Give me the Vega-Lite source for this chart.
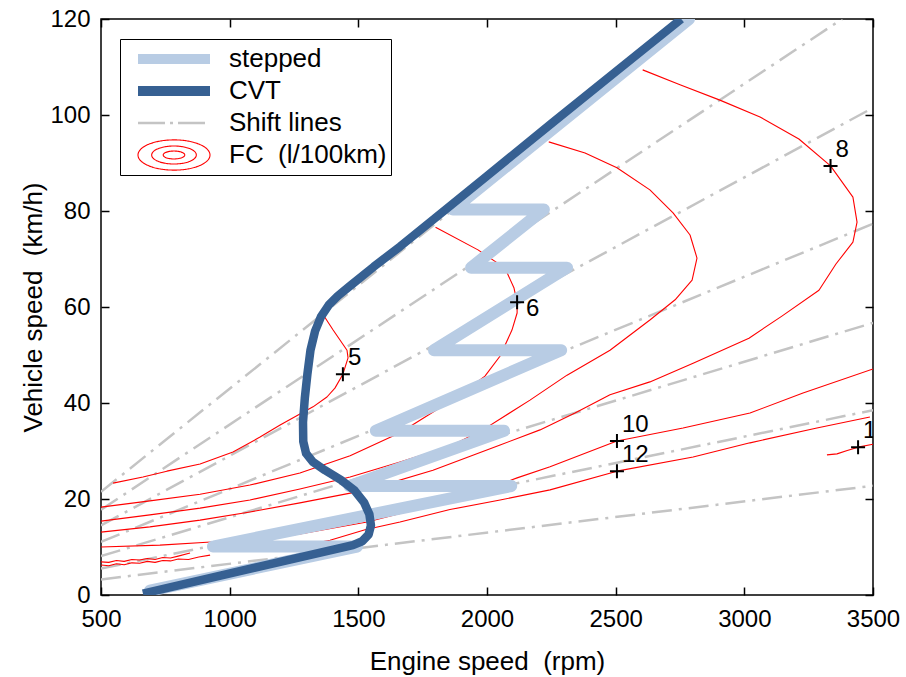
{
  "$schema": "https://vega.github.io/schema/vega-lite/v6.json",
  "width": 772,
  "height": 576,
  "autosize": {"type": "none"},
  "padding": {"left": 101, "top": 19, "right": 33, "bottom": 82},
  "background": "white",
  "config": {
    "font": "Liberation Sans",
    "view": {"stroke": "#000", "strokeWidth": 1.5},
    "axis": {
      "grid": false,
      "domain": false,
      "tickColor": "#000",
      "tickWidth": 1.5,
      "tickSize": -8,
      "labelFont": "Liberation Sans",
      "labelFontSize": 24,
      "labelColor": "#000",
      "titleFont": "Liberation Sans",
      "titleFontSize": 26,
      "titleFontWeight": "normal",
      "titleColor": "#000"
    }
  },
  "datasets": {
    "shift": [
      {"g": 1, "rpm": 500, "kmh": 3.25}, {"g": 1, "rpm": 3500, "kmh": 22.75},
      {"g": 2, "rpm": 500, "kmh": 5.5}, {"g": 2, "rpm": 3500, "kmh": 38.5},
      {"g": 3, "rpm": 500, "kmh": 8.1}, {"g": 3, "rpm": 3500, "kmh": 56.7},
      {"g": 4, "rpm": 500, "kmh": 11.05}, {"g": 4, "rpm": 3500, "kmh": 77.35},
      {"g": 5, "rpm": 500, "kmh": 14.5}, {"g": 5, "rpm": 3500, "kmh": 101.5},
      {"g": 6, "rpm": 500, "kmh": 17.75}, {"g": 6, "rpm": 3380, "kmh": 120},
      {"g": 7, "rpm": 500, "kmh": 21.5}, {"g": 7, "rpm": 2791, "kmh": 120}
    ],
    "fc": [
      {"p": "5", "rpm": 1359, "kmh": 58.75}, {"p": "5", "rpm": 1402, "kmh": 55.2}, {"p": "5", "rpm": 1456, "kmh": 51}, {"p": "5", "rpm": 1460, "kmh": 49.4}, {"p": "5", "rpm": 1440, "kmh": 46}, {"p": "5", "rpm": 1409, "kmh": 43.1}, {"p": "5", "rpm": 1378, "kmh": 41.25}, {"p": "5", "rpm": 1324, "kmh": 39.2}, {"p": "5", "rpm": 1273, "kmh": 37.7}, {"p": "5", "rpm": 1196, "kmh": 35.4}, {"p": "5", "rpm": 1118, "kmh": 32.9}, {"p": "5", "rpm": 1013, "kmh": 29.8}, {"p": "5", "rpm": 885, "kmh": 27.3}, {"p": "5", "rpm": 756, "kmh": 25.8}, {"p": "5", "rpm": 663, "kmh": 24.6}, {"p": "5", "rpm": 547, "kmh": 23.3},
      {"p": "6", "rpm": 500, "kmh": 18.3}, {"p": "6", "rpm": 690, "kmh": 19.6}, {"p": "6", "rpm": 885, "kmh": 21}, {"p": "6", "rpm": 1079, "kmh": 22.9}, {"p": "6", "rpm": 1273, "kmh": 25.4}, {"p": "6", "rpm": 1468, "kmh": 29}, {"p": "6", "rpm": 1662, "kmh": 33.8}, {"p": "6", "rpm": 1817, "kmh": 39}, {"p": "6", "rpm": 1915, "kmh": 42.5}, {"p": "6", "rpm": 1992, "kmh": 45.6}, {"p": "6", "rpm": 2051, "kmh": 49.8}, {"p": "6", "rpm": 2097, "kmh": 55.2}, {"p": "6", "rpm": 2117, "kmh": 58.75}, {"p": "6", "rpm": 2117, "kmh": 61}, {"p": "6", "rpm": 2105, "kmh": 63.95}, {"p": "6", "rpm": 2070, "kmh": 68.1}, {"p": "6", "rpm": 1965, "kmh": 71.9}, {"p": "6", "rpm": 1800, "kmh": 76.6},
      {"p": "7", "rpm": 500, "kmh": 15.4}, {"p": "7", "rpm": 690, "kmh": 16.7}, {"p": "7", "rpm": 885, "kmh": 18.1}, {"p": "7", "rpm": 1079, "kmh": 19.8}, {"p": "7", "rpm": 1273, "kmh": 22.1}, {"p": "7", "rpm": 1468, "kmh": 24.6}, {"p": "7", "rpm": 1662, "kmh": 27.7}, {"p": "7", "rpm": 1856, "kmh": 31}, {"p": "7", "rpm": 1984, "kmh": 34.4}, {"p": "7", "rpm": 2167, "kmh": 40.6}, {"p": "7", "rpm": 2311, "kmh": 45.8}, {"p": "7", "rpm": 2478, "kmh": 51}, {"p": "7", "rpm": 2633, "kmh": 57.3}, {"p": "7", "rpm": 2731, "kmh": 61.5}, {"p": "7", "rpm": 2797, "kmh": 65.6}, {"p": "7", "rpm": 2816, "kmh": 70.2}, {"p": "7", "rpm": 2789, "kmh": 75}, {"p": "7", "rpm": 2723, "kmh": 79.6}, {"p": "7", "rpm": 2633, "kmh": 84.4}, {"p": "7", "rpm": 2505, "kmh": 89}, {"p": "7", "rpm": 2381, "kmh": 92.1}, {"p": "7", "rpm": 2240, "kmh": 94.4},
      {"p": "8", "rpm": 500, "kmh": 13.1}, {"p": "8", "rpm": 690, "kmh": 14.2}, {"p": "8", "rpm": 885, "kmh": 15.6}, {"p": "8", "rpm": 1079, "kmh": 17.3}, {"p": "8", "rpm": 1273, "kmh": 19.2}, {"p": "8", "rpm": 1534, "kmh": 21.9}, {"p": "8", "rpm": 1790, "kmh": 26}, {"p": "8", "rpm": 2051, "kmh": 31.25}, {"p": "8", "rpm": 2206, "kmh": 34.4}, {"p": "8", "rpm": 2342, "kmh": 37.9}, {"p": "8", "rpm": 2478, "kmh": 41.7}, {"p": "8", "rpm": 2633, "kmh": 44.4}, {"p": "8", "rpm": 2801, "kmh": 48.3}, {"p": "8", "rpm": 3018, "kmh": 53.5}, {"p": "8", "rpm": 3146, "kmh": 58.1}, {"p": "8", "rpm": 3290, "kmh": 63.5}, {"p": "8", "rpm": 3356, "kmh": 68.96}, {"p": "8", "rpm": 3422, "kmh": 73.5}, {"p": "8", "rpm": 3438, "kmh": 77.7}, {"p": "8", "rpm": 3422, "kmh": 82.9}, {"p": "8", "rpm": 3335, "kmh": 89.4}, {"p": "8", "rpm": 3212, "kmh": 95}, {"p": "8", "rpm": 3061, "kmh": 99.6}, {"p": "8", "rpm": 2905, "kmh": 103.1}, {"p": "8", "rpm": 2750, "kmh": 106.3}, {"p": "8", "rpm": 2605, "kmh": 109.4},
      {"p": "10", "rpm": 500, "kmh": 10}, {"p": "10", "rpm": 729, "kmh": 10.4}, {"p": "10", "rpm": 912, "kmh": 11.0}, {"p": "10", "rpm": 1130, "kmh": 11.7}, {"p": "10", "rpm": 1273, "kmh": 12.7}, {"p": "10", "rpm": 1534, "kmh": 15.2}, {"p": "10", "rpm": 1790, "kmh": 18.75}, {"p": "10", "rpm": 2012, "kmh": 22.3}, {"p": "10", "rpm": 2117, "kmh": 24.4}, {"p": "10", "rpm": 2245, "kmh": 26.7}, {"p": "10", "rpm": 2505, "kmh": 32.1}, {"p": "10", "rpm": 2762, "kmh": 34.8}, {"p": "10", "rpm": 3022, "kmh": 37.9}, {"p": "10", "rpm": 3228, "kmh": 42.1}, {"p": "10", "rpm": 3500, "kmh": 47.1},
      {"p": "12a", "rpm": 500, "kmh": 6.9}, {"p": "12a", "rpm": 530, "kmh": 6.8}, {"p": "12a", "rpm": 560, "kmh": 7.2}, {"p": "12a", "rpm": 590, "kmh": 7.0}, {"p": "12a", "rpm": 620, "kmh": 7.4}, {"p": "12a", "rpm": 650, "kmh": 7.3}, {"p": "12a", "rpm": 680, "kmh": 7.6}, {"p": "12a", "rpm": 710, "kmh": 7.4}, {"p": "12a", "rpm": 740, "kmh": 7.8}, {"p": "12a", "rpm": 770, "kmh": 7.7}, {"p": "12a", "rpm": 800, "kmh": 8.1}, {"p": "12a", "rpm": 846, "kmh": 8.75},
      {"p": "12b", "rpm": 1273, "kmh": 10.2}, {"p": "12b", "rpm": 1390, "kmh": 11.4}, {"p": "12b", "rpm": 1526, "kmh": 13.6}, {"p": "12b", "rpm": 1662, "kmh": 15.2}, {"p": "12b", "rpm": 1856, "kmh": 17.8}, {"p": "12b", "rpm": 2051, "kmh": 19.8}, {"p": "12b", "rpm": 2245, "kmh": 21.9}, {"p": "12b", "rpm": 2505, "kmh": 25.8}, {"p": "12b", "rpm": 2801, "kmh": 28.75}, {"p": "12b", "rpm": 3022, "kmh": 31.7}, {"p": "12b", "rpm": 3282, "kmh": 34.8}, {"p": "12b", "rpm": 3488, "kmh": 37.1},
      {"p": "14a", "rpm": 500, "kmh": 6.25}, {"p": "14a", "rpm": 530, "kmh": 6.1}, {"p": "14a", "rpm": 560, "kmh": 6.5}, {"p": "14a", "rpm": 590, "kmh": 6.3}, {"p": "14a", "rpm": 620, "kmh": 6.7}, {"p": "14a", "rpm": 650, "kmh": 6.6}, {"p": "14a", "rpm": 680, "kmh": 7.0}, {"p": "14a", "rpm": 710, "kmh": 6.8}, {"p": "14a", "rpm": 740, "kmh": 7.2}, {"p": "14a", "rpm": 770, "kmh": 7.1}, {"p": "14a", "rpm": 800, "kmh": 7.5}, {"p": "14a", "rpm": 840, "kmh": 7.4}, {"p": "14a", "rpm": 880, "kmh": 7.9}, {"p": "14a", "rpm": 924, "kmh": 8.3},
      {"p": "14b", "rpm": 3321, "kmh": 29.2}, {"p": "14b", "rpm": 3360, "kmh": 29.4}, {"p": "14b", "rpm": 3400, "kmh": 30.1}, {"p": "14b", "rpm": 3442, "kmh": 30.8}, {"p": "14b", "rpm": 3500, "kmh": 31.4}
    ],
    "stepped": [
      {"rpm": 690, "kmh": 0.9}, {"rpm": 1495, "kmh": 10.1}, {"rpm": 935, "kmh": 10.1},
      {"rpm": 2094, "kmh": 22.7}, {"rpm": 1465, "kmh": 22.7},
      {"rpm": 2066, "kmh": 34.2}, {"rpm": 1568, "kmh": 34.2},
      {"rpm": 2288, "kmh": 51}, {"rpm": 1794, "kmh": 51},
      {"rpm": 2311, "kmh": 68.2}, {"rpm": 1938, "kmh": 68.2},
      {"rpm": 2221, "kmh": 80.3}, {"rpm": 1867, "kmh": 80.3},
      {"rpm": 2785, "kmh": 120}
    ],
    "cvt": [
      {"rpm": 663, "kmh": 0.3}, {"rpm": 1479, "kmh": 10.4}, {"rpm": 1515, "kmh": 11.2}, {"rpm": 1540, "kmh": 12.6}, {"rpm": 1549, "kmh": 14.5}, {"rpm": 1543, "kmh": 16.8}, {"rpm": 1522, "kmh": 19.3}, {"rpm": 1485, "kmh": 21.8}, {"rpm": 1432, "kmh": 24}, {"rpm": 1370, "kmh": 26}, {"rpm": 1324, "kmh": 27.7}, {"rpm": 1297, "kmh": 29.5}, {"rpm": 1286, "kmh": 32}, {"rpm": 1285, "kmh": 36}, {"rpm": 1292, "kmh": 41}, {"rpm": 1302, "kmh": 46}, {"rpm": 1314, "kmh": 51}, {"rpm": 1332, "kmh": 55}, {"rpm": 1355, "kmh": 58}, {"rpm": 1385, "kmh": 60.4}, {"rpm": 1420, "kmh": 62.3}, {"rpm": 1468, "kmh": 64.4}, {"rpm": 1560, "kmh": 68.4}, {"rpm": 1662, "kmh": 72.6}, {"rpm": 1800, "kmh": 78.6}, {"rpm": 2000, "kmh": 87.3}, {"rpm": 2250, "kmh": 98.2}, {"rpm": 2500, "kmh": 109}, {"rpm": 2755, "kmh": 120}
    ],
    "fcLabels": [
      {"lvl": "5", "rpm": 1440, "kmh": 46},
      {"lvl": "6", "rpm": 2117, "kmh": 61},
      {"lvl": "8", "rpm": 3335, "kmh": 89.4},
      {"lvl": "10", "rpm": 2505, "kmh": 32.1},
      {"lvl": "12", "rpm": 2505, "kmh": 25.8},
      {"lvl": "14", "rpm": 3442, "kmh": 30.8}
    ]
  },
  "layer": [
    {
      "data": {"name": "shift"},
      "mark": {"type": "line", "clip": true, "strokeWidth": 2.5, "strokeDash": [20, 7, 3, 7]},
      "encoding": {
        "x": {
          "field": "rpm", "type": "quantitative",
          "scale": {"domain": [500, 3500], "nice": false, "zero": false},
          "axis": {
            "orient": "bottom",
            "values": [500, 1000, 1500, 2000, 2500, 3000, 3500],
            "format": "d",
            "labelFlush": false,
            "labelPadding": 20,
            "title": "Engine speed \u00a0(rpm)",
            "titleX": 386,
            "titleY": 74,
            "titleBaseline": "alphabetic"
          }
        },
        "y": {
          "field": "kmh", "type": "quantitative",
          "scale": {"domain": [0, 120], "nice": false, "zero": false},
          "axis": {
            "orient": "left",
            "values": [0, 20, 40, 60, 80, 100, 120],
            "labelPadding": 19,
            "title": "Vehicle speed \u00a0(km/h)",
            "titleX": -60,
            "titleY": 288,
            "titleBaseline": "alphabetic"
          }
        },
        "detail": {"field": "g", "type": "nominal"},
        "color": {"datum": "Shift lines", "type": "nominal",
          "scale": {"domain": ["stepped", "CVT", "Shift lines", "FC \u00a0(l/100km)"], "range": ["#b8cce4", "#366092", "#c4c4c4", "#ff0000"]},
          "legend": {"orient": "none", "legendX": 19, "legendY": 20, "title": null, "symbolType": "stroke", "clipHeight": 32, "rowPadding": 0, "padding": 4, "labelFontSize": 26, "labelFont": "Liberation Sans", "labelColor": "#000", "labelLimit": 400, "strokeColor": "#000", "fillColor": "#fff",
            "encode": {
              "symbols": {"update": {
                "x": {"value": 50},
                "fill": {"value": "transparent"},
                "size": {"value": 5184},
                "shape": {"signal": "indexof(datum.value, 'FC') === 0 ? 'M-1,0A1,0.42,0,1,0,1,0A1,0.42,0,1,0,-1,0ZM-0.62,0A0.62,0.25,0,1,0,0.62,0A0.62,0.25,0,1,0,-0.62,0ZM-0.3,0A0.3,0.11,0,1,0,0.3,0A0.3,0.11,0,1,0,-0.3,0Z' : 'stroke'"},
                "strokeWidth": {"signal": "datum.value === 'stepped' || datum.value === 'CVT' ? 10 : datum.value === 'Shift lines' ? 2.5 : 1.1"},
                "strokeDash": {"signal": "datum.value === 'Shift lines' ? [27, 5, 3, 5] : [1, 0]"},
                "opacity": {"value": 1}
              }},
              "labels": {"update": {"x": {"value": 105}, "align": {"value": "left"}}}
            }}}
      }
    },
    {
      "data": {"name": "fc"},
      "mark": {"type": "line", "clip": true, "strokeJoin": "round", "strokeWidth": 1.1},
      "encoding": {
        "x": {"field": "rpm", "type": "quantitative",
          "axis": {"orient": "top", "values": [500, 1000, 1500, 2000, 2500, 3000, 3500], "labels": false, "title": null}},
        "y": {"field": "kmh", "type": "quantitative",
          "axis": {"orient": "right", "values": [0, 20, 40, 60, 80, 100, 120], "labels": false, "title": null}},
        "order": {"value": null},
        "detail": {"field": "p", "type": "nominal"},
        "color": {"datum": "FC \u00a0(l/100km)", "type": "nominal",
          "scale": {"domain": ["stepped", "CVT", "Shift lines", "FC \u00a0(l/100km)"], "range": ["#b8cce4", "#366092", "#c4c4c4", "#ff0000"]},
          "legend": {"orient": "none", "legendX": 19, "legendY": 20, "title": null, "symbolType": "stroke", "clipHeight": 32, "rowPadding": 0, "padding": 4, "labelFontSize": 26, "labelFont": "Liberation Sans", "labelColor": "#000", "labelLimit": 400, "strokeColor": "#000", "fillColor": "#fff",
            "encode": {
              "symbols": {"update": {
                "x": {"value": 50},
                "fill": {"value": "transparent"},
                "size": {"value": 5184},
                "shape": {"signal": "indexof(datum.value, 'FC') === 0 ? 'M-1,0A1,0.42,0,1,0,1,0A1,0.42,0,1,0,-1,0ZM-0.62,0A0.62,0.25,0,1,0,0.62,0A0.62,0.25,0,1,0,-0.62,0ZM-0.3,0A0.3,0.11,0,1,0,0.3,0A0.3,0.11,0,1,0,-0.3,0Z' : 'stroke'"},
                "strokeWidth": {"signal": "datum.value === 'stepped' || datum.value === 'CVT' ? 10 : datum.value === 'Shift lines' ? 2.5 : 1.1"},
                "strokeDash": {"signal": "datum.value === 'Shift lines' ? [27, 5, 3, 5] : [1, 0]"},
                "opacity": {"value": 1}
              }},
              "labels": {"update": {"x": {"value": 105}, "align": {"value": "left"}}}
            }}}
      }
    },
    {
      "data": {"name": "stepped"},
      "mark": {"type": "line", "clip": true, "strokeCap": "round", "strokeJoin": "round", "strokeWidth": 12},
      "encoding": {
        "x": {"field": "rpm", "type": "quantitative", "axis": null},
        "y": {"field": "kmh", "type": "quantitative", "axis": null},
        "order": {"value": null},
        "color": {"datum": "stepped", "type": "nominal",
          "scale": {"domain": ["stepped", "CVT", "Shift lines", "FC \u00a0(l/100km)"], "range": ["#b8cce4", "#366092", "#c4c4c4", "#ff0000"]},
          "legend": {"orient": "none", "legendX": 19, "legendY": 20, "title": null, "symbolType": "stroke", "clipHeight": 32, "rowPadding": 0, "padding": 4, "labelFontSize": 26, "labelFont": "Liberation Sans", "labelColor": "#000", "labelLimit": 400, "strokeColor": "#000", "fillColor": "#fff",
            "encode": {
              "symbols": {"update": {
                "x": {"value": 50},
                "fill": {"value": "transparent"},
                "size": {"value": 5184},
                "shape": {"signal": "indexof(datum.value, 'FC') === 0 ? 'M-1,0A1,0.42,0,1,0,1,0A1,0.42,0,1,0,-1,0ZM-0.62,0A0.62,0.25,0,1,0,0.62,0A0.62,0.25,0,1,0,-0.62,0ZM-0.3,0A0.3,0.11,0,1,0,0.3,0A0.3,0.11,0,1,0,-0.3,0Z' : 'stroke'"},
                "strokeWidth": {"signal": "datum.value === 'stepped' || datum.value === 'CVT' ? 10 : datum.value === 'Shift lines' ? 2.5 : 1.1"},
                "strokeDash": {"signal": "datum.value === 'Shift lines' ? [27, 5, 3, 5] : [1, 0]"},
                "opacity": {"value": 1}
              }},
              "labels": {"update": {"x": {"value": 105}, "align": {"value": "left"}}}
            }}}
      }
    },
    {
      "data": {"name": "cvt"},
      "mark": {"type": "line", "clip": true, "strokeJoin": "round", "strokeWidth": 8.5},
      "encoding": {
        "x": {"field": "rpm", "type": "quantitative", "axis": null},
        "y": {"field": "kmh", "type": "quantitative", "axis": null},
        "order": {"value": null},
        "color": {"datum": "CVT", "type": "nominal",
          "scale": {"domain": ["stepped", "CVT", "Shift lines", "FC \u00a0(l/100km)"], "range": ["#b8cce4", "#366092", "#c4c4c4", "#ff0000"]},
          "legend": {"orient": "none", "legendX": 19, "legendY": 20, "title": null, "symbolType": "stroke", "clipHeight": 32, "rowPadding": 0, "padding": 4, "labelFontSize": 26, "labelFont": "Liberation Sans", "labelColor": "#000", "labelLimit": 400, "strokeColor": "#000", "fillColor": "#fff",
            "encode": {
              "symbols": {"update": {
                "x": {"value": 50},
                "fill": {"value": "transparent"},
                "size": {"value": 5184},
                "shape": {"signal": "indexof(datum.value, 'FC') === 0 ? 'M-1,0A1,0.42,0,1,0,1,0A1,0.42,0,1,0,-1,0ZM-0.62,0A0.62,0.25,0,1,0,0.62,0A0.62,0.25,0,1,0,-0.62,0ZM-0.3,0A0.3,0.11,0,1,0,0.3,0A0.3,0.11,0,1,0,-0.3,0Z' : 'stroke'"},
                "strokeWidth": {"signal": "datum.value === 'stepped' || datum.value === 'CVT' ? 10 : datum.value === 'Shift lines' ? 2.5 : 1.1"},
                "strokeDash": {"signal": "datum.value === 'Shift lines' ? [27, 5, 3, 5] : [1, 0]"},
                "opacity": {"value": 1}
              }},
              "labels": {"update": {"x": {"value": 105}, "align": {"value": "left"}}}
            }}}
      }
    },
    {
      "data": {"name": "fcLabels"},
      "mark": {"type": "point", "shape": "M-1,0H1M0,-1V1", "size": 196, "filled": false, "stroke": "#000", "strokeWidth": 2, "opacity": 1},
      "encoding": {
        "x": {"field": "rpm", "type": "quantitative", "axis": null},
        "y": {"field": "kmh", "type": "quantitative", "axis": null}
      }
    },
    {
      "data": {"name": "fcLabels"},
      "transform": [{"filter": "datum.lvl != '6'"}],
      "mark": {"type": "text", "align": "left", "baseline": "middle", "dx": 5, "dy": -16, "fontSize": 24, "fill": "#000", "clip": true},
      "encoding": {
        "x": {"field": "rpm", "type": "quantitative", "axis": null},
        "y": {"field": "kmh", "type": "quantitative", "axis": null},
        "text": {"field": "lvl"}
      }
    },
    {
      "data": {"name": "fcLabels"},
      "transform": [{"filter": "datum.lvl == '6'"}],
      "mark": {"type": "text", "align": "left", "baseline": "middle", "dx": 9, "dy": 7, "fontSize": 24, "fill": "#000", "clip": true},
      "encoding": {
        "x": {"field": "rpm", "type": "quantitative", "axis": null},
        "y": {"field": "kmh", "type": "quantitative", "axis": null},
        "text": {"field": "lvl"}
      }
    }
  ],
  "resolve": {"axis": {"x": "independent", "y": "independent"}}
}
